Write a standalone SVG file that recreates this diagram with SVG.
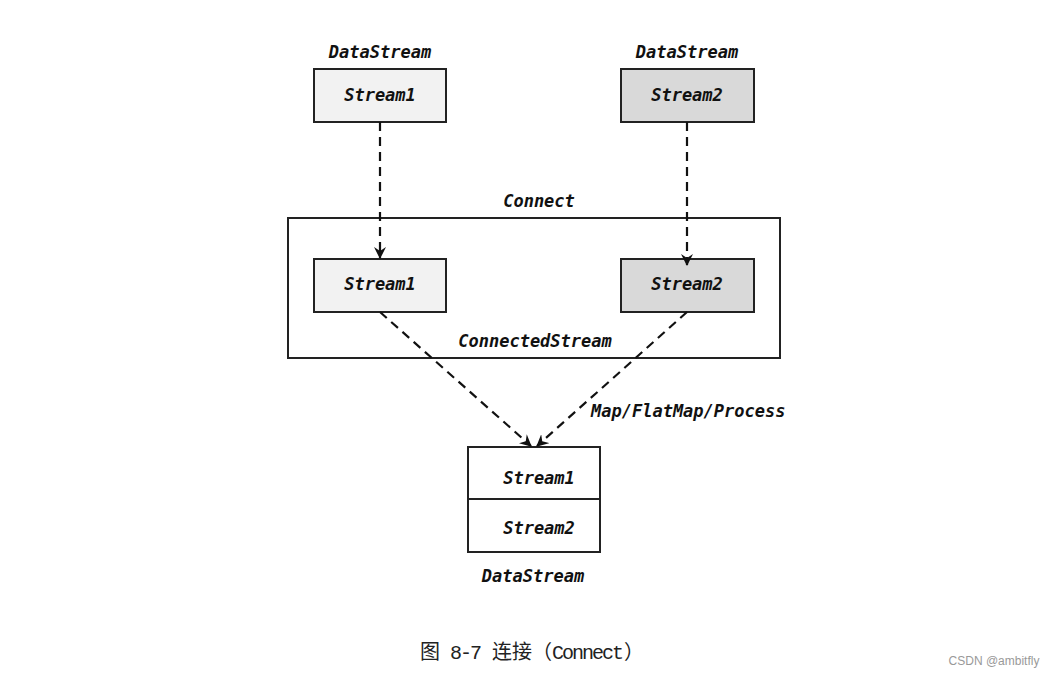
<svg xmlns="http://www.w3.org/2000/svg" width="1058" height="677" viewBox="0 0 1058 677">
<style>
.box{stroke:#222;stroke-width:2}
.lbl{font-family:"DejaVu Sans Mono","Liberation Mono",monospace;font-weight:bold;font-style:italic;font-size:17px;fill:#111}
.c{text-anchor:middle}
.edge{fill:none;stroke:#111;stroke-width:2.2;stroke-dasharray:9,6}
.cap{font-family:"Noto Sans CJK SC",sans-serif;font-size:20px;fill:#222}
.capl{font-family:"Liberation Mono",monospace;font-size:20px;letter-spacing:-2px;fill:#222}
</style>
<defs>
<marker id="ah" viewBox="0 0 12 12" refX="11" refY="6" markerWidth="12" markerHeight="12" markerUnits="userSpaceOnUse" orient="auto">
<path d="M0,0 L12,6 L0,12 L4,6 z" fill="#111"/>
</marker>
</defs>
<rect width="1058" height="677" fill="#fff"/>
<g id="connect-box">
<rect class="box" x="288" y="218" width="492" height="140" fill="#fff"/>
<text class="lbl c" x="539" y="207">Connect</text>
<text class="lbl c" x="535" y="347">ConnectedStream</text>
</g>
<g id="src1">
<text class="lbl c" x="380" y="58">DataStream</text>
<rect class="box" x="314" y="69" width="132" height="53" fill="#f2f2f2"/>
<text class="lbl c" x="380" y="101">Stream1</text>
</g>
<g id="src2">
<text class="lbl c" x="687" y="58">DataStream</text>
<rect class="box" x="621" y="69" width="133" height="53" fill="#d9d9d9"/>
<text class="lbl c" x="687" y="101">Stream2</text>
</g>
<g id="in1">
<rect class="box" x="314" y="259" width="132" height="53" fill="#f2f2f2"/>
<text class="lbl c" x="380" y="290">Stream1</text>
</g>
<g id="in2">
<rect class="box" x="621" y="259" width="133" height="53" fill="#d9d9d9"/>
<text class="lbl c" x="687" y="290">Stream2</text>
</g>
<g id="out">
<rect class="box" x="468" y="447" width="132" height="105" fill="#fff"/>
<line class="box" x1="468" y1="499" x2="600" y2="499"/>
<text class="lbl c" x="539" y="484">Stream1</text>
<text class="lbl c" x="539" y="534">Stream2</text>
<text class="lbl c" x="533" y="582">DataStream</text>
</g>
<g id="connectors">
<line class="edge" x1="380" y1="122" x2="380" y2="258" marker-end="url(#ah)"/>
<line class="edge" x1="687" y1="122" x2="687" y2="265" marker-end="url(#ah)"/>
<line class="edge" x1="380" y1="312" x2="531" y2="446" marker-end="url(#ah)"/>
<line class="edge" x1="687" y1="312" x2="537" y2="446" marker-end="url(#ah)"/>
<text class="lbl" x="591" y="417">Map/FlatMap/Process</text>
</g>
<text x="420" y="659" class="cap">图<tspan class="capl" dx="10">8-7</tspan><tspan dx="12">连接（</tspan><tspan class="capl">Connect</tspan><tspan dx="2">）</tspan></text>
<text x="994" y="665" text-anchor="middle" font-family="'Liberation Sans',Arial,sans-serif" font-size="12" fill="#999">CSDN @ambitfly</text>
</svg>
